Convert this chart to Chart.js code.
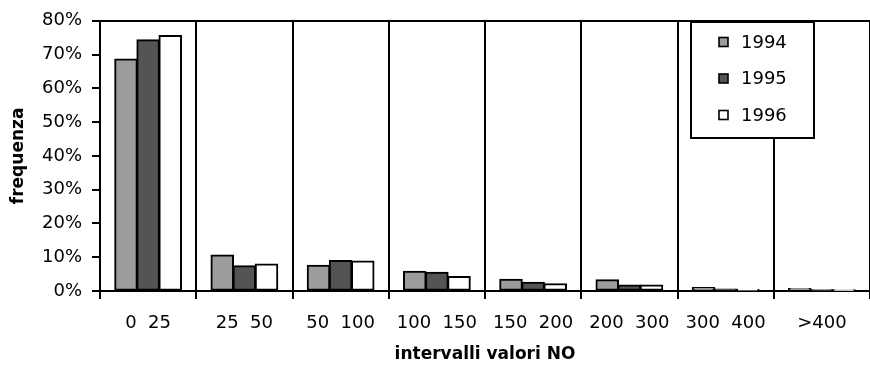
<!DOCTYPE html>
<html>
<head>
<meta charset="utf-8">
<script src="https://cdn.jsdelivr.net/npm/chart.js"></script>
<style>
  html, body { margin: 0; padding: 0; background: #fff; }
  #wrap { width: 870px; height: 367px; }
</style>
</head>
<body>
<div id="wrap"><canvas id="c" width="870" height="367"></canvas></div>
<script>
// NO concentration classes and yearly frequency (%)
const categories = ['0  25', '25  50', '50  100', '100  150', '150  200', '200  300', '300  400', '>400'];
const years = ['1994', '1995', '1996'];
const freq1994 = [68.6, 10.6, 7.6, 5.8, 3.4, 3.3, 1.0, 0.7];
const freq1995 = [74.3, 7.4, 9.0, 5.5, 2.5, 1.7, 0.5, 0.3];
const freq1996 = [75.6, 7.9, 8.8, 4.2, 2.1, 1.7, 0.4, 0.2];
const yTicks = [0, 10, 20, 30, 40, 50, 60, 70, 80];

const fills = ['#9c9c9c', '#545454', '#ffffff'];
const FONT = "'DejaVu Sans', sans-serif";

// Boxed legend drawn inside the plot area
const boxLegend = {
  id: 'boxLegend',
  afterDraw(chart, args, opts) {
    const ctx = chart.ctx;
    ctx.save();
    ctx.fillStyle = '#fff';
    ctx.fillRect(opts.x, opts.y, opts.w, opts.h);
    ctx.strokeStyle = '#000';
    ctx.lineWidth = 2;
    ctx.strokeRect(opts.x, opts.y, opts.w, opts.h);
    ctx.font = '18px ' + FONT;
    ctx.textBaseline = 'middle';
    ctx.textAlign = 'left';
    chart.data.datasets.forEach((ds, i) => {
      const cy = opts.y + opts.firstRow + i * opts.rowGap;
      ctx.fillStyle = ds.backgroundColor;
      ctx.fillRect(opts.x + 28, cy - 4.5, 9, 9);
      ctx.lineWidth = 1.6;
      ctx.strokeStyle = '#000';
      ctx.strokeRect(opts.x + 28, cy - 4.5, 9, 9);
      ctx.fillStyle = '#000';
      ctx.fillText(ds.label, opts.x + 50, cy + 1);
    });
    ctx.restore();
  }
};

const series = [freq1994, freq1995, freq1996];

new Chart(document.getElementById('c'), {
  type: 'bar',
  data: {
    labels: categories,
    datasets: years.map((y, i) => ({
      label: y,
      data: series[i],
      backgroundColor: fills[i],
      borderColor: '#000',
      borderWidth: 2,
      borderSkipped: false,
      inflateAmount: 0.7,
      categoryPercentage: 0.69,
      barPercentage: 1.0
    }))
  },
  options: {
    responsive: false,
    animation: false,
    devicePixelRatio: 1,
    layout: { autoPadding: false, padding: { top: 17, right: 0, bottom: 0, left: 0 } },
    plugins: {
      legend: { display: false },
      tooltip: { enabled: false },
      boxLegend: { x: 691, y: 22, w: 123, h: 116, firstRow: 20, rowGap: 36.5 }
    },
    scales: {
      x: {
        offset: true,
        grid: {
          offset: true,
          color: '#000',
          lineWidth: 2,
          tickLength: 8,
          drawOnChartArea: true
        },
        border: { display: true, color: '#000', width: 2 },
        ticks: {
          color: '#000',
          font: { family: FONT, size: 18 },
          padding: 14,
          autoSkip: false,
          maxRotation: 0,
          minRotation: 0
        },
        title: {
          display: true,
          text: 'intervalli valori NO',
          color: '#000',
          font: { family: FONT, size: 17, weight: 'bold' },
          padding: { top: 0, bottom: 2 }
        },
        afterFit(scale) { scale.height = 76; }
      },
      y: {
        min: 0,
        max: 80,
        afterBuildTicks(scale) { scale.ticks = yTicks.map(v => ({ value: v })); },
        grid: {
          color: ctx => (ctx.tick && ctx.tick.value === 80 ? '#000' : 'rgba(0,0,0,0)'),
          tickColor: '#000',
          lineWidth: 2,
          tickLength: 8
        },
        border: { display: true, color: '#000', width: 2 },
        ticks: {
          color: '#000',
          font: { family: FONT, size: 18 },
          padding: 10,
          callback: v => v + '%'
        },
        title: {
          display: true,
          text: 'frequenza',
          color: '#000',
          font: { family: FONT, size: 17, weight: 'bold' },
          padding: { top: 8, bottom: 0 }
        },
        afterFit(scale) { scale.width = 100; }
      }
    }
  },
  plugins: [boxLegend]
});
</script>
</body>
</html>
